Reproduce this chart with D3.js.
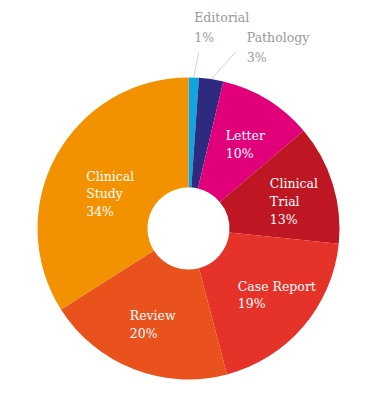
<!DOCTYPE html>
<html>
<head>
<meta charset="utf-8">
<script src="https://cdn.jsdelivr.net/npm/d3@7"></script>
<style>
  html, body { margin: 0; padding: 0; background: #fff; }
  svg { display: block; }
</style>
</head>
<body>
<div id="chart"></div>
<script>
"use strict";
// article types, share of publications (%)
const categories = ["Editorial", "Pathology", "Letter", "Clinical Trial", "Case Report", "Review", "Clinical Study"];
const shares = [1.1, 2.6, 10.1, 12.8, 19.3, 20.1, 34.0];
const colors = ["#0ea5e0", "#2e2a80", "#e2007a", "#be1622", "#e5332a", "#e9511d", "#f39200"];
const labelLines = [["Editorial"], ["Pathology"], ["Letter"], ["Clinical", "Trial"], ["Case Report"], ["Review"], ["Clinical", "Study"]];

const width = 374, height = 395;
const cx = 188.5, cy = 228.5, outerR = 151, innerR = 41;
const lineH = 17.7, capH = 9.5;
const fontStack = "DejaVu Serif";
const fontSize = 12.5;

// small layout tweaks for label placement
const labelNudge = {
  "Clinical Study": [12, 14.6], "Letter": [3, 3.4], "Clinical Trial": [7, 3.3],
  "Case Report": [10, -0.6], "Review": [2, 0]
};
const outsideLayout = {
  "Editorial": {dx: 4.3, dy: 0, tx: -4.7, ty: -29.4},
  "Pathology": {dx: 20.7, dy: -1.8, tx: 11, ty: -9.4}
};

const data = categories.map((c, i) => ({name: c, value: shares[i], color: colors[i], lines: labelLines[i]}));
const total = d3.sum(shares);
const pct = v => Math.round(v / total * 100) + "%";

const svg = d3.select("#chart").append("svg").attr("width", width).attr("height", height);
const g = svg.append("g").attr("transform", `translate(${cx},${cy})`);

const pie = d3.pie().sort(null).value(d => d.value);
const arc = d3.arc().innerRadius(innerR).outerRadius(outerR);
const labelArc = d3.arc().innerRadius(103).outerRadius(103);
const edgeArc = d3.arc().innerRadius(outerR).outerRadius(outerR);
const leaderArc = d3.arc().innerRadius(177).outerRadius(177);

const arcs = pie(data);

g.selectAll("path.slice").data(arcs).join("path")
  .attr("class", "slice")
  .attr("d", arc)
  .attr("fill", d => d.data.color);

// inside labels
const inside = arcs.filter(d => !outsideLayout[d.data.name]);
inside.forEach(d => {
  const [px, py] = labelArc.centroid(d);
  const nudge = labelNudge[d.data.name] || [0, 0];
  const lines = d.data.lines.concat([pct(d.data.value)]);
  const n = lines.length;
  const b1 = py + nudge[1] - ((n - 1) * lineH - capH) / 2;
  const t = g.append("text")
    .style("font-family", fontStack)
    .attr("fill", "#fff")
    .attr("font-size", fontSize);
  lines.forEach((s, i) => {
    t.append("tspan").attr("x", 0).attr("y", b1 + i * lineH).text(s);
  });
  const w = t.node().getBBox().width;
  t.attr("transform", `translate(${px + nudge[0] - w / 2},0)`);
});

// outside labels with leader lines
const outside = arcs.filter(d => outsideLayout[d.data.name]);
outside.forEach(d => {
  const lay = outsideLayout[d.data.name];
  const [sx, sy] = edgeArc.centroid(d);
  const [lx, ly] = leaderArc.centroid(d);
  const ex = lx + lay.dx, ey = ly + lay.dy;
  g.append("line")
    .attr("x1", sx).attr("y1", sy).attr("x2", ex).attr("y2", ey)
    .attr("stroke", "#c8c8c8").attr("stroke-width", 0.8);
  const t = g.append("text")
    .style("font-family", fontStack)
    .attr("fill", "#999")
    .attr("font-size", fontSize);
  const lines = d.data.lines.concat([pct(d.data.value)]);
  lines.forEach((s, i) => {
    t.append("tspan").attr("x", ex + lay.tx).attr("y", ey + lay.ty + i * 19.7).text(s);
  });
});
</script>
</body>
</html>
